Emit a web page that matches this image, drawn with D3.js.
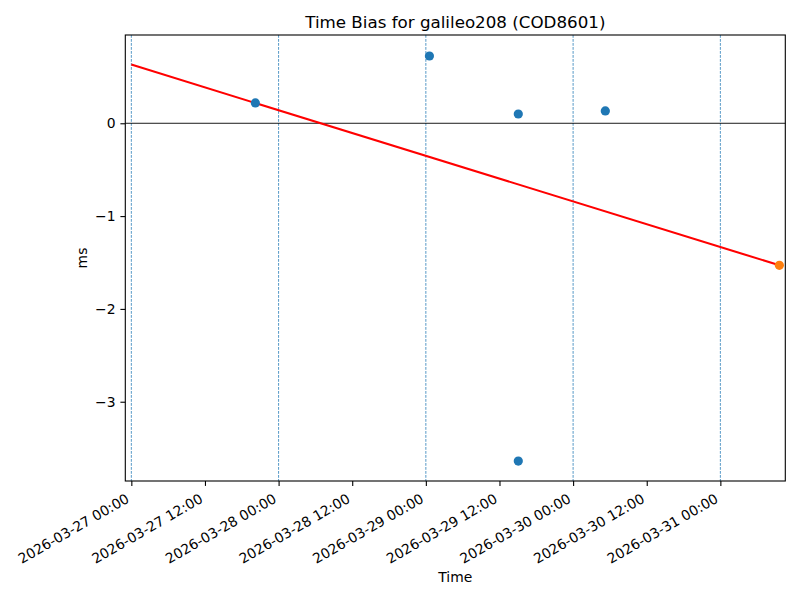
<!DOCTYPE html>
<html>
<head>
<meta charset="utf-8">
<script src="https://cdn.jsdelivr.net/npm/d3@7"></script>
<style>
  html, body { margin: 0; padding: 0; background: #fff; }
  svg, svg text { font-family: "DejaVu Sans", sans-serif; }
  svg { display: block; }
</style>
</head>
<body>
<svg id="chart" width="800" height="600"></svg>
<script>
// ---- data ----
const chartTitle = "Time Bias for galileo208 (COD8601)";
const xLabel = "Time";
const yLabel = "ms";
const obsTimes = ["2026-03-27T20:13", "2026-03-29T00:35", "2026-03-29T15:04", "2026-03-29T15:04", "2026-03-30T05:15"];
const obsValues = [0.219, 0.725, 0.100, -3.639, 0.133];
const fitTimes = ["2026-03-27T00:00", "2026-03-31T09:37"];
const fitValues = [0.632, -1.530];
const predTimes = ["2026-03-31T09:37"];
const predValues = [-1.530];
const dayLineTimes = ["2026-03-27T00:00", "2026-03-28T00:00", "2026-03-29T00:00", "2026-03-30T00:00", "2026-03-31T00:00"];
const xTickTimes = ["2026-03-27T00:00", "2026-03-27T12:00", "2026-03-28T00:00", "2026-03-28T12:00",
                    "2026-03-29T00:00", "2026-03-29T12:00", "2026-03-30T00:00", "2026-03-30T12:00", "2026-03-31T00:00"];
const yTicks = [-3, -2, -1, 0];
const xDomain = ["2026-03-26T23:01", "2026-03-31T10:35"];
const yDomain = [-3.854, 0.951];

// ---- layout ----
const L = 125.3, R = 785.3, T = 35, B = 481;
const FONT = "DejaVu Sans, sans-serif";
const parse = d3.utcParse("%Y-%m-%dT%H:%M");
const fmt = d3.utcFormat("%Y-%m-%d %H:%M");
const svg = d3.select("#chart");

const x = d3.scaleUtc().domain(xDomain.map(parse)).range([L, R]);
const y = d3.scaleLinear().domain(yDomain).range([B, T]);

const C0 = "#1f77b4", C1 = "#ff7f0e";

// day dashed lines
svg.append("g").selectAll("line").data(dayLineTimes.map(parse)).join("line")
  .attr("x1", d => x(d)).attr("x2", d => x(d))
  .attr("y1", T).attr("y2", B)
  .attr("stroke", C0).attr("stroke-width", 0.75)
  .attr("stroke-dasharray", "2.8,1.2");

// zero line
svg.append("line")
  .attr("x1", L).attr("x2", R).attr("y1", y(0)).attr("y2", y(0))
  .attr("stroke", "#000").attr("stroke-width", 0.9);

// fit line
const fitData = fitTimes.map((t, i) => [parse(t), fitValues[i]]);
svg.append("path").datum(fitData)
  .attr("d", d3.line().x(d => x(d[0])).y(d => y(d[1])))
  .attr("fill", "none").attr("stroke", "red").attr("stroke-width", 2.08);

// observed points
svg.append("g").selectAll("circle").data(obsTimes.map((t, i) => [parse(t), obsValues[i]])).join("circle")
  .attr("cx", d => x(d[0])).attr("cy", d => y(d[1])).attr("r", 4.6).attr("fill", C0);

// predicted point
svg.append("g").selectAll("circle").data(predTimes.map((t, i) => [parse(t), predValues[i]])).join("circle")
  .attr("cx", d => x(d[0])).attr("cy", d => y(d[1])).attr("r", 4.6).attr("fill", C1);

// frame
svg.append("rect").attr("x", L).attr("y", T).attr("width", R - L).attr("height", B - T)
  .attr("fill", "none").attr("stroke", "#000").attr("stroke-width", 1.1);

// x axis
const xAxis = d3.axisBottom(x).tickValues(xTickTimes.map(parse)).tickFormat(fmt).tickSize(4.9).tickPadding(4.9);
const gx = svg.append("g").attr("transform", `translate(0,${B})`).call(xAxis)
  .attr("font-family", FONT).attr("font-size", 13.9);
gx.select(".domain").remove();
gx.selectAll(".tick line").attr("stroke", "#000").attr("stroke-width", 1.1);
gx.selectAll(".tick text")
  .attr("fill", "#000")
  .attr("text-anchor", "end")
  .attr("dy", null).attr("y", null)
  .attr("transform", "translate(-1.6,20.5) rotate(-30)");

// y axis
const yAxis = d3.axisLeft(y).tickValues(yTicks).tickFormat(d => d < 0 ? "\u2212" + Math.abs(d) : String(d)).tickSize(4.9).tickPadding(4.9);
const gy = svg.append("g").attr("transform", `translate(${L},0)`).call(yAxis)
  .attr("font-family", FONT).attr("font-size", 13.9);
gy.select(".domain").remove();
gy.selectAll(".tick line").attr("stroke", "#000").attr("stroke-width", 1.1);
gy.selectAll(".tick text").attr("fill", "#000");

// labels
svg.append("text").attr("x", (L + R) / 2).attr("y", 27.5).attr("text-anchor", "middle")
  .attr("font-family", FONT).attr("font-size", "16.7px").attr("fill", "#000").text(chartTitle);
svg.append("text").attr("x", (L + R) / 2).attr("y", 582).attr("text-anchor", "middle")
  .attr("font-family", FONT).attr("font-size", "13.9px").attr("fill", "#000").text(xLabel);
svg.append("text").attr("transform", `translate(87,${(T + B) / 2}) rotate(-90)`).attr("text-anchor", "middle")
  .attr("font-family", FONT).attr("font-size", "13.9px").attr("fill", "#000").text(yLabel);
</script>
</body>
</html>
